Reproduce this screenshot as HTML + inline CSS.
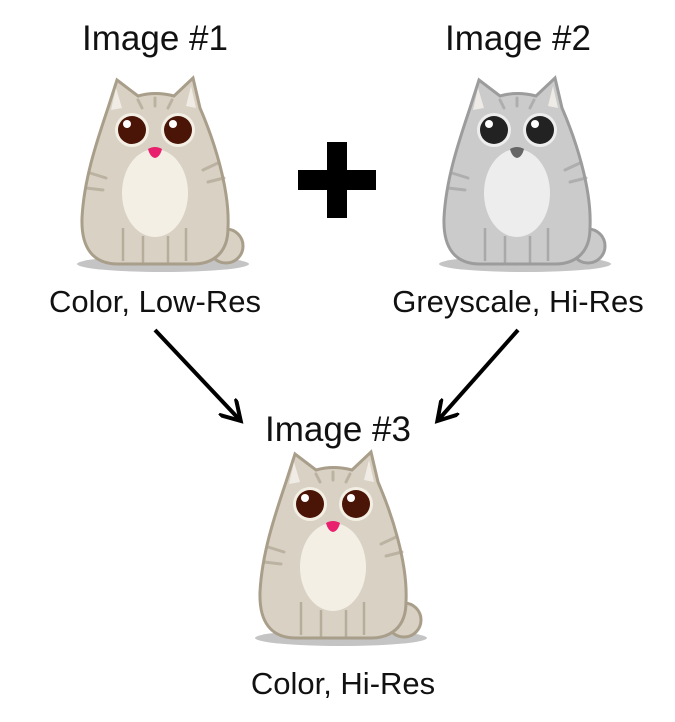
<!DOCTYPE html>
<html><head><meta charset="utf-8"><style>
html,body{margin:0;padding:0;background:#fff;}
svg{display:block;}
text{font-family:"Liberation Sans",sans-serif;fill:#111;}
</style></head><body>
<svg width="675" height="722" viewBox="0 0 675 722">
<defs>
<g id="cat">
  <ellipse cx="85" cy="186" rx="86" ry="8" fill="var(--sh)"/>
  <circle cx="148" cy="168" r="17" fill="var(--b)" stroke="var(--s)" stroke-width="3"/>
  <path d="M30 30 L39 2 L60 18 Q77 13 96 18 L115 0 L122 30 C135 60 152 110 150 150 C150 175 135 186 115 186 L40 186 C15 186 3 170 4 140 C6 100 20 60 30 30 Z" fill="var(--b)" stroke="var(--s)" stroke-width="3"/>
  <path d="M38 10 L44 30 L33 32 Z M113 8 L108 28 L118 30 Z" fill="#f6f3ee" opacity="0.8"/>
  <ellipse cx="77" cy="115" rx="33" ry="44" fill="var(--w)"/>
  <path d="M12 95 L28 100 M8 110 L25 112 M140 85 L125 92 M146 100 L130 104 M60 22 L64 30 M77 20 L77 28 M94 22 L90 30" stroke="var(--s)" stroke-width="3" stroke-linecap="round" opacity="0.6"/>
  <path d="M45 150 L45 183 M65 158 L65 185 M90 158 L90 185 M108 150 L108 183" stroke="var(--s)" stroke-width="2.5" opacity="0.7"/>
  <circle cx="54" cy="52" r="17" fill="var(--w)"/>
  <circle cx="100" cy="52" r="17" fill="var(--w)"/>
  <circle cx="54" cy="52" r="14" fill="var(--e)"/>
  <circle cx="100" cy="52" r="14" fill="var(--e)"/>
  <circle cx="49" cy="46" r="4" fill="#fff"/>
  <circle cx="95" cy="46" r="4" fill="#fff"/>
  <path d="M70 71 Q77 67 84 71 Q82 79 77 80 Q72 79 70 71 Z" fill="var(--n)"/>
</g>
<marker id="ah" markerWidth="6" markerHeight="6" refX="4" refY="3" orient="auto" markerUnits="strokeWidth"><path d="M0 0 L5 3 L0 6" fill="none" stroke="#000" stroke-width="1"/></marker>
</defs>

<text x="155" y="50" font-size="35" text-anchor="middle">Image #1</text>
<text x="518" y="50" font-size="35" text-anchor="middle">Image #2</text>

<use href="#cat" x="78" y="78" style="--b:#d8d1c4;--s:#a99e8a;--w:#f3efe4;--e:#4a1506;--n:#e8206e;--sh:#c4c4c4"/>
<use href="#cat" x="440" y="78" style="--b:#cbcbcb;--s:#9c9c9c;--w:#ededed;--e:#222;--n:#666;--sh:#c4c4c4"/>
<use href="#cat" x="256" y="452" style="--b:#d8d1c4;--s:#a99e8a;--w:#f3efe4;--e:#4a1506;--n:#e8206e;--sh:#c4c4c4"/>

<g>
<rect x="298" y="170" width="78" height="20" fill="#000"/>
<rect x="327" y="142" width="20" height="76" fill="#000"/>
</g>

<text x="155" y="312" font-size="31" text-anchor="middle">Color, Low-Res</text>
<text x="518" y="312" font-size="31" text-anchor="middle">Greyscale, Hi-Res</text>

<line x1="155" y1="330" x2="238" y2="418" stroke="#000" stroke-width="4" marker-end="url(#ah)"/>
<line x1="518" y1="330" x2="440" y2="418" stroke="#000" stroke-width="4" marker-end="url(#ah)"/>

<text x="338" y="441" font-size="35" text-anchor="middle">Image #3</text>
<text x="343" y="694" font-size="31" text-anchor="middle">Color, Hi-Res</text>
</svg>
</body></html>
